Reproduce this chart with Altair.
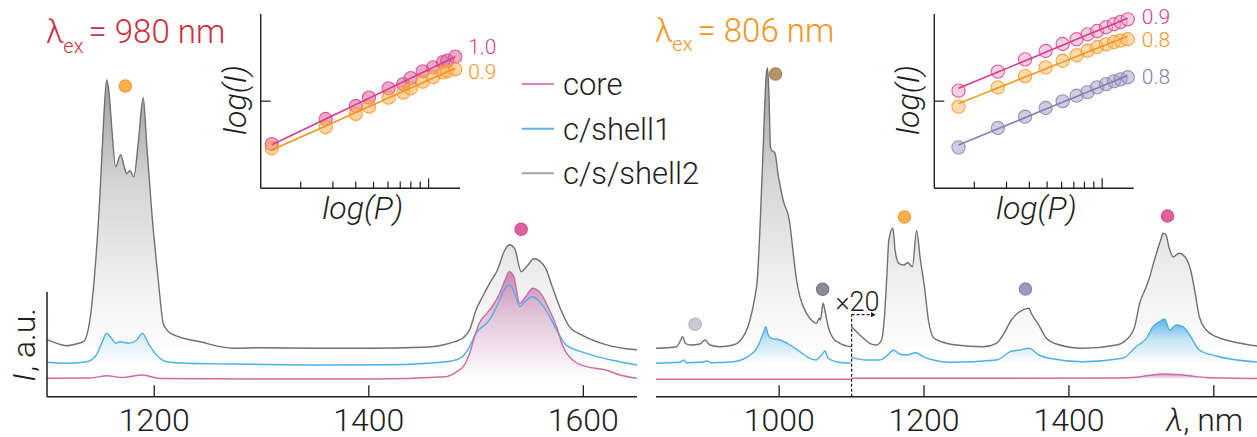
import altair as alt
import pandas as pd

FONT = "Roboto"
WEIGHT = 300
INK = "#1e1e1e"
Y0 = 396.7  # baseline of both spectra panels

# ---------- emission spectra: wavelength (nm) and intensity (a.u.) ----------
# 980 nm excitation
L_GRAY_NM = [1100, 1110, 1118, 1128, 1134, 1140, 1144, 1149.4, 1152.5, 1155.6, 1158, 1160.3, 1164,
             1168.6, 1171.5, 1174.3, 1177.3, 1181, 1185, 1189.7, 1192.9, 1197.5, 1203.7, 1208.4,
             1211.5, 1217.7, 1242.6, 1273.6, 1300, 1350, 1400, 1450, 1470, 1480, 1488, 1494, 1500,
             1506, 1513, 1520, 1526, 1531, 1536, 1542, 1547, 1554, 1564, 1571, 1579, 1587, 1598,
             1621, 1640, 1650]
L_GRAY = [57, 53, 51, 53, 55, 77, 117, 203, 270, 317, 302, 270, 230, 242, 232, 223, 226, 220, 253,
          299, 253, 187, 117, 73, 67, 62, 55, 48.5, 49, 48.5, 48.5, 49.5, 52, 55, 59, 67, 87, 100,
          114, 127, 145, 152, 148, 125, 130, 138, 130, 110, 87, 70, 62, 52, 48, 47]

L_BLUE_NM = [1100, 1118, 1137, 1146, 1151, 1155.6, 1160, 1164.3, 1168, 1175.8, 1183.6, 1189, 1194.4,
             1202, 1211.5, 1230, 1273, 1354, 1420, 1472, 1485, 1494, 1499, 1503, 1510, 1516, 1522,
             1526, 1530, 1533, 1537.6, 1540.7, 1545.4, 1553, 1559.3, 1567, 1575, 1584, 1603, 1634,
             1650]
L_BLUE = [34.4, 33.4, 35, 41.7, 53.4, 63.4, 58.4, 53.4, 55, 53.4, 56.7, 63.4, 53.4, 41.7, 35, 33.4,
          32.7, 31.7, 32, 35, 38.4, 50, 61.7, 67.4, 73.4, 83.4, 96.7, 106.7, 111.7, 110, 98.4, 90,
          95, 100, 95, 83.4, 66.7, 51.7, 43.4, 35, 31.7]

L_PINK_NM = [1100, 1140, 1156, 1170, 1189, 1205, 1300, 1400, 1472, 1482, 1488, 1494, 1499, 1503,
             1510, 1516, 1522, 1527, 1531, 1535, 1540.7, 1546, 1553, 1559, 1567, 1575, 1581, 1590,
             1603, 1621, 1634, 1650]
L_PINK = [18.4, 18.7, 21, 19.2, 21.7, 18.2, 17.7, 17.7, 20, 25, 30, 43.4, 61.7, 73.4, 83.4, 91.7,
          103.4, 116.7, 125, 120.7, 93.4, 99.7, 108.4, 105, 90, 70, 50, 36.7, 30, 26.7, 21.7, 18.4]

# 806 nm excitation: part A below 1100 nm, part B above it (shown x20)
R_GRAY_A_NM = [830, 858.5, 863, 866.8, 870.5, 877, 890.7, 897.6, 904.5, 918, 936.6, 950.4, 959.7,
               966.6, 969.8, 974, 978, 982, 984, 986, 988, 990, 994, 999, 1006, 1014, 1020, 1024,
               1028.6, 1037.8, 1047, 1051.6, 1055.3, 1057, 1060.8, 1063, 1067.7, 1074.5, 1083.8,
               1099]
R_GRAY_A = [48.4, 50, 55, 60, 53.4, 51.7, 52.7, 56.7, 51.7, 50, 51.7, 60, 76.7, 100, 116.7, 176.7,
            250, 320, 328.7, 300, 250, 246, 244, 220, 195, 176.7, 140, 116.7, 100, 83.4, 75, 73.4,
            78.4, 76.7, 93.4, 86.7, 70, 58.4, 53.4, 50]
R_GRAY_B_NM = [1100, 1111.4, 1125, 1134, 1141.3, 1145, 1148.6, 1151.4, 1157, 1160, 1165, 1172,
               1177.6, 1184, 1189.6, 1195, 1200.5, 1206, 1214, 1244, 1281.5, 1300, 1309, 1320.6,
               1332, 1345, 1348, 1357, 1369, 1382.7, 1419.4, 1465.5, 1479, 1490.7, 1497.6, 1506,
               1511, 1516.7, 1526.6, 1530, 1534, 1538.4, 1544, 1552, 1560, 1568, 1573.5, 1580,
               1589.6, 1603.4, 1626.3, 1660]
R_GRAY_B = [70, 61.7, 53.4, 51.7, 56.7, 76.7, 120, 156.7, 168.4, 146.7, 133.4, 131.7, 134, 130,
            166, 136.7, 110, 76.7, 58.4, 51.7, 50, 53.4, 61.7, 76.7, 85, 88.4, 83.4, 73.4, 58.4,
            52.7, 48.4, 51.7, 56.7, 70, 93.4, 108.7, 118.7, 133.4, 156.7, 163.4, 161.7, 148.4, 140,
            143.4, 140, 126.7, 106.7, 80, 66.7, 60, 55, 50.7]

R_BLUE_A_NM = [830, 863, 868.6, 872, 895, 900, 907, 936.6, 955, 969, 978, 981.6, 985, 989.5, 1001,
               1015, 1028.6, 1042.4, 1051.6, 1056, 1058.8, 1063, 1067.6, 1079, 1099]
R_BLUE_A = [33.4, 34.4, 36.7, 34, 34.7, 35.7, 34, 35, 39.4, 48.4, 63.4, 70, 61.7, 58.4, 56.7, 51.7,
            45, 38.4, 36.7, 40, 41.7, 46, 38.4, 35, 33.4]
R_BLUE_B_NM = [1100, 1120.6, 1139, 1150, 1157.4, 1166.5, 1175.7, 1188.6, 1198.7, 1212.5, 1235.5,
               1300, 1318.9, 1332, 1345, 1358.8, 1372.6, 1419, 1474, 1492.6, 1506.8, 1515.9, 1525,
               1532, 1539, 1548, 1557.3, 1566.6, 1580, 1603.4, 1660]
R_BLUE_B = [39.4, 36.7, 36.7, 41.7, 46.7, 42.7, 41.7, 44, 40, 36.7, 34.4, 36.7, 45, 46.7, 48.4,
            41.7, 38.4, 35, 38.4, 50, 58.4, 70, 75, 77.7, 66.7, 71.7, 70, 61.7, 46.7, 40.7, 34.7]

R_PINK_A_NM = [830, 1099]
R_PINK_A = [17.4, 17.4]
R_PINK_B_NM = [1100, 1300, 1470, 1492, 1510, 1530, 1550, 1566, 1590, 1660]
R_PINK_B = [18.4, 18.4, 18.7, 19.4, 21.2, 22.7, 22.2, 21, 19.2, 18.2]

# band markers above the spectra
L_DOT_NM = [1173, 1542]
L_DOT_I = [310.7, 167.4]
L_DOT_FILL = ["#fbb050", "#e2609f"]
L_DOT_EDGE = ["#f39a2e", "#d04d8e"]
R_DOT_NM = [884, 995, 1060, 1173, 1340, 1536]
R_DOT_I = [72.4, 322.7, 107.4, 179.7, 107.7, 180.7]
R_DOT_FILL = ["#cdc9d1", "#b8926a", "#8e8a99", "#fbb050", "#a197c1", "#e2609f"]
R_DOT_EDGE = ["#b9b5bf", "#a27d55", "#79748a", "#f39a2e", "#8c82ad", "#d04d8e"]

# ---------- power dependence insets: pump power P and band intensity I ----------
L_P = [1.39, 2.74, 4.0, 4.72, 6.05, 7.27, 7.98, 9.29, 10.6, 12.0, 12.65, 14.0]
L_I_1540 = [3.22, 6.24, 8.80, 10.96, 14.0, 15.7, 18.4, 22.0, 24.4, 28.1, 29.1, 32.4]
L_I_1170 = [2.88, 5.01, 7.12, 8.64, 10.96, 12.5, 14.0, 16.7, 18.8, 21.4, 22.0, 23.2]
R_P = [1.64, 2.69, 3.79, 4.91, 6.08, 7.25, 8.32, 9.39, 10.5, 11.6, 12.6, 13.8]
R_I_1540 = [13.2, 21.8, 30.2, 37.6, 45.3, 51.3, 58.5, 63.8, 70.4, 76.2, 81.0, 86.9]
R_I_1170 = [8.64, 14.4, 19.4, 24.4, 29.1, 33.6, 37.9, 41.8, 44.9, 47.7, 49.4, 51.3]
R_I_1340 = [2.95, 4.92, 6.63, 8.34, 9.96, 11.55, 12.7, 14.4, 15.7, 16.9, 17.8, 18.8]
L_SLOPES = ["1.0", "0.9"]
R_SLOPES = ["0.9", "0.8", "0.8"]
P_MIN, P_MAX = 1.209, 14.85
I_MIN, I_MAX = 1, 100
P_TICKS = [2, 3, 4, 5, 6, 7, 8, 9]

LEFT_TICKS = [1200, 1400, 1600]
RIGHT_TICKS = [1000, 1200, 1400, 1600]
RIGHT_TICK_LABELS = ["1000", "1200", "1400"]
LEGEND = ["core", "c/shell1", "c/s/shell2"]

LINE = {"core": "#cf6aa2", "c/shell1": "#4fb0e6", "c/s/shell2": "#707070"}
LEGEND_COLORS = ["#d58ab6", "#5bb3e6", "#a3a3a3"]
PINK, ORANGE, PURPLE = "#d63c8c", "#f7941d", "#857daa"
RED = "#cc2f3d"


def grad(stops):
    return alt.Gradient(gradient="linear", x1=0, x2=0, y1=0, y2=1,
                        stops=[alt.GradientStop(color=c, offset=o) for o, c in stops])


FILL = {
    "c/s/shell2": grad([(0, "#a0a0a0"), (0.4, "#d6d6d6"), (0.75, "#efefef"), (1, "#fdfdfd")]),
    "c/shell1": grad([(0, "#5ab4e6"), (0.45, "#c3e3f5"), (1, "#ffffff")]),
    "core": grad([(0, "#cf86b4"), (0.4, "#e2c4da"), (1, "#ffffff")]),
}


def spectra(parts, base):
    rows = []
    for series, seg, nms, vals in parts:
        for n, v in zip(nms, vals):
            rows.append({"nm": n, "I": v, "series": series, "seg": f"{series}-{seg}",
                         "base": base[series]})
    return pd.DataFrame(rows)


def text(t, x, y, size, color=INK, style="normal", align="left", angle=0, baseline="alphabetic"):
    return alt.Chart(pd.DataFrame({"k": [0]})).mark_text(
        text=t, font=FONT, fontWeight=WEIGHT, fontSize=size, fontStyle=style, color=color,
        align=align, baseline=baseline, angle=angle,
    ).encode(x=alt.value(x), y=alt.value(y))


def panel(df, dom, rng, ticks, tick_vals, tick_labels, dots, yaxis_top=None, extra=()):
    xs = alt.Scale(domain=dom, range=rng, nice=False, zero=False)
    ys = alt.Scale(domain=[0, 400], range=[Y0, Y0 - 400], nice=False, zero=False)

    def X(f):
        return alt.X(f, scale=xs, axis=None)

    def Y(f):
        return alt.Y(f, scale=ys, axis=None)

    layers = []
    for s in ["c/s/shell2", "c/shell1", "core"]:
        layers.append(
            alt.Chart(df).transform_filter(alt.datum.series == s)
            .mark_area(interpolate="monotone", color=FILL[s])
            .encode(x=X("nm:Q"), y=Y("I:Q"), y2="base:Q")
        )
    for s in ["c/s/shell2", "c/shell1", "core"]:
        layers.append(
            alt.Chart(df).transform_filter(alt.datum.series == s)
            .mark_line(interpolate="monotone", color=LINE[s], strokeWidth=1.4)
            .encode(x=X("nm:Q"), y=Y("I:Q"), detail="seg:N")
        )
    layers.append(
        alt.Chart(dots).mark_circle(size=150, strokeWidth=1.2, opacity=1)
        .encode(x=X("nm:Q"), y=Y("I:Q"), fill=alt.Fill("fill:N", scale=None),
                stroke=alt.Stroke("edge:N", scale=None))
    )
    # axis line and inward ticks
    layers.append(
        alt.Chart(pd.DataFrame({"a": [dom[0]], "b": [dom[1]], "y": [0]}))
        .mark_rule(color=INK, strokeWidth=1.5)
        .encode(x=X("a:Q"), x2="b:Q", y=Y("y:Q"))
    )
    if yaxis_top is not None:
        layers.append(
            alt.Chart(pd.DataFrame({"a": [dom[0]], "y": [0], "y2": [yaxis_top]}))
            .mark_rule(color=INK, strokeWidth=1.5)
            .encode(x=X("a:Q"), y=Y("y:Q"), y2="y2:Q")
        )
    layers.append(
        alt.Chart(pd.DataFrame({"t": ticks})).mark_rule(color=INK, strokeWidth=1.3)
        .encode(x=X("t:Q"), y=alt.value(Y0), y2=alt.value(Y0 - 11.4))
    )
    layers.append(
        alt.Chart(pd.DataFrame({"t": tick_vals, "lab": tick_labels}))
        .mark_text(font=FONT, fontWeight=WEIGHT, fontSize=32, color=INK, baseline="alphabetic")
        .encode(x=X("t:Q"), y=alt.value(430.5), text="lab:N")
    )
    for build in extra:
        layers.append(build(X, Y))
    return alt.layer(*layers)


def inset(ps, series, x0, labels):
    xs = alt.Scale(type="log", domain=[P_MIN, P_MAX], range=[x0, x0 + 199.3], nice=False)
    ys = alt.Scale(type="log", domain=[I_MIN, I_MAX], range=[188.3, 14], nice=False)

    def X(f):
        return alt.X(f, scale=xs, axis=None)

    def Y(f):
        return alt.Y(f, scale=ys, axis=None)

    rows = []
    for vals, fill, line in series:
        for p, i in zip(ps, vals):
            rows.append({"P": p, "I": i, "fill": fill, "line": line})
    df = pd.DataFrame(rows)
    pts = alt.Chart(df).mark_circle(size=175, fillOpacity=0.55, strokeOpacity=0.8, strokeWidth=1.1).encode(
        x=X("P:Q"), y=Y("I:Q"), fill=alt.Fill("fill:N", scale=None), stroke=alt.Stroke("line:N", scale=None))
    fit = alt.Chart(df).transform_regression("P", "I", method="pow", groupby=["line"]).mark_line(
        strokeWidth=1.6).encode(x=X("P:Q"), y=Y("I:Q"), stroke=alt.Stroke("line:N", scale=None))
    xaxis = alt.Chart(pd.DataFrame({"a": [P_MIN], "b": [P_MAX], "y": [I_MIN]})).mark_rule(
        color=INK, strokeWidth=1.4).encode(x=X("a:Q"), x2="b:Q", y=Y("y:Q"))
    yaxis = alt.Chart(pd.DataFrame({"a": [P_MIN], "y": [I_MIN], "y2": [I_MAX]})).mark_rule(
        color=INK, strokeWidth=1.4).encode(x=X("a:Q"), y=Y("y:Q"), y2="y2:Q")
    minor = alt.Chart(pd.DataFrame({"t": P_TICKS})).mark_rule(color=INK, strokeWidth=1.2).encode(
        x=X("t:Q"), y=alt.value(188.3), y2=alt.value(181.6))
    major = alt.Chart(pd.DataFrame({"t": [10]})).mark_rule(color=INK, strokeWidth=1.2).encode(
        x=X("t:Q"), y=alt.value(188.3), y2=alt.value(178.3))
    ytick = alt.Chart(pd.DataFrame({"t": [10]})).mark_rule(color=INK, strokeWidth=1.2).encode(
        x=alt.value(x0), x2=alt.value(x0 + 10), y=Y("t:Q"))
    layers = [pts, fit, xaxis, yaxis, minor, major, ytick,
              text("log(P)", x0 + 102, 219, 32, style="italic", align="center"),
              text("log(I)", x0 - 15, 100, 32, style="italic", align="center", angle=270)]
    for lab, y, color in labels:
        layers.append(text(lab, x0 + 207.5, y, 21, color=color, baseline="middle"))
    return alt.layer(*layers)


left_df = spectra([
    ("c/s/shell2", "a", L_GRAY_NM, L_GRAY),
    ("c/shell1", "a", L_BLUE_NM, L_BLUE),
    ("core", "a", L_PINK_NM, L_PINK),
], {"c/s/shell2": 48, "c/shell1": 32, "core": 17.5})

right_df = spectra([
    ("c/s/shell2", "a", R_GRAY_A_NM, R_GRAY_A),
    ("c/s/shell2", "b", R_GRAY_B_NM, R_GRAY_B),
    ("c/shell1", "a", R_BLUE_A_NM, R_BLUE_A),
    ("c/shell1", "b", R_BLUE_B_NM, R_BLUE_B),
    ("core", "a", R_PINK_A_NM, R_PINK_A),
    ("core", "b", R_PINK_B_NM, R_PINK_B),
], {"c/s/shell2": 48, "c/shell1": 33, "core": 17.4})

left_dots = pd.DataFrame({"nm": L_DOT_NM, "I": L_DOT_I, "fill": L_DOT_FILL, "edge": L_DOT_EDGE})
right_dots = pd.DataFrame({"nm": R_DOT_NM, "I": R_DOT_I, "fill": R_DOT_FILL, "edge": R_DOT_EDGE})


def x20_marker(X, Y):
    # dashed step marking where the x20 magnified part begins
    d = pd.DataFrame({"a": [1100], "b": [1130], "y": [0], "y2": [82]})
    up = alt.Chart(d).mark_rule(color=INK, strokeWidth=1.2, strokeDash=[3, 2]).encode(
        x=X("a:Q"), y=Y("y:Q"), y2="y2:Q")
    across = alt.Chart(d).mark_rule(color=INK, strokeWidth=1.2, strokeDash=[3, 2]).encode(
        x=X("a:Q"), x2="b:Q", y=Y("y2:Q"))
    head = alt.Chart(d).mark_point(shape="triangle-right", filled=True, size=28, color=INK, opacity=1).encode(
        x=X("b:Q"), y=Y("y2:Q"))
    return alt.layer(up, across, head)


left = panel(left_df, [1100, 1650], [47, 637], LEFT_TICKS, LEFT_TICKS,
             [str(t) for t in LEFT_TICKS], left_dots, yaxis_top=104.7)
right = panel(right_df, [830, 1659.6], [656, 1257], RIGHT_TICKS, RIGHT_TICKS[:3],
              RIGHT_TICK_LABELS, right_dots, extra=[x20_marker])

left_inset = inset(L_P, [(L_I_1540, "#d9659f", PINK), (L_I_1170, "#f9ae55", ORANGE)], 260.7,
                   [(L_SLOPES[0], 48, PINK), (L_SLOPES[1], 72.5, ORANGE)])
right_inset = inset(R_P, [(R_I_1540, "#eba6c9", PINK), (R_I_1170, "#fbbd70", ORANGE),
                          (R_I_1340, "#aaa4c6", PURPLE)], 934.3,
                    [(R_SLOPES[0], 17.5, PINK), (R_SLOPES[1], 40.5, ORANGE), (R_SLOPES[2], 78, PURPLE)])

legend_df = pd.DataFrame({"label": LEGEND, "color": LEGEND_COLORS})
ly = alt.Y("label:N", scale=alt.Scale(type="point", domain=LEGEND, range=[84, 173.3], padding=0), axis=None)
legend = alt.layer(
    alt.Chart(legend_df).mark_rule(strokeWidth=2).encode(
        x=alt.value(521.7), x2=alt.value(554), y=ly, color=alt.Color("color:N", scale=None)),
    alt.Chart(legend_df).mark_text(font=FONT, fontWeight=WEIGHT, fontSize=31, color=INK, align="left",
                                   baseline="alphabetic", dy=11).encode(
        x=alt.value(563), y=ly, text="label:N"),
)

annotations = alt.layer(
    text("λ", 46, 43.3, 33, color=RED),
    text("ex", 63.3, 52.5, 20, color=RED),
    text("= 980 nm", 88.5, 43.3, 33, color=RED),
    text("λ", 655, 42, 33, color=ORANGE),
    text("ex", 672.3, 51.2, 20, color=ORANGE),
    text("= 806 nm", 697.5, 42, 33, color=ORANGE),
    text("I", 35, 381.7, 32, style="italic", angle=270),
    text(", a.u.", 35, 372, 32, angle=270),
    text("λ", 1183.3, 430.5, 32, style="italic", align="right"),
    text(", nm", 1183.3, 430.5, 32),
    text("×20", 857.5, 310.5, 27, align="center"),
)

chart = alt.layer(left, right, left_inset, right_inset, legend, annotations).resolve_scale(
    x="independent", y="independent"
).properties(
    width=1257, height=437, padding=0, autosize=alt.AutoSizeParams(type="none"), background="white"
).configure_view(stroke=None)

chart.save("out.html", embed_options={"renderer": "svg", "actions": False})
